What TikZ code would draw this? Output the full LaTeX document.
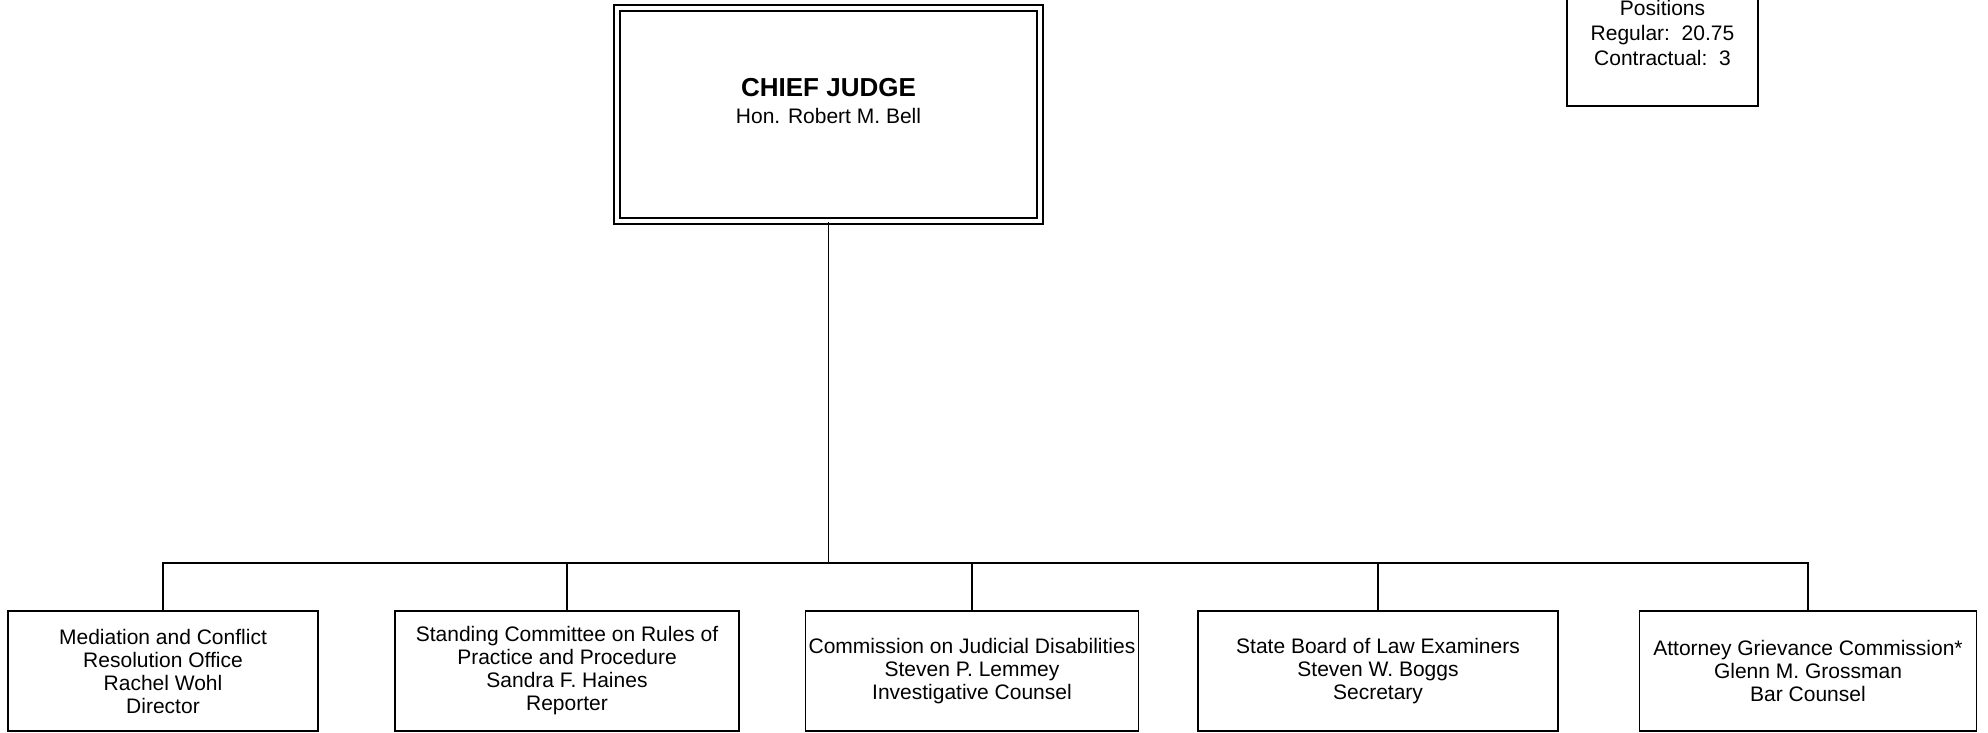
\documentclass[tikz,border=0pt]{standalone}
\usepackage{fontspec}
\setmainfont{Liberation Sans}
\begin{document}
\begin{tikzpicture}[x=0.5pt, y=-0.5pt,
  every node/.style = {align=center, inner sep=0pt,
    font=\fontsize{10.5}{11.5}\selectfont},
  unit/.style = {shape=rectangle, draw, line width=0.75pt, minimum height=60pt},
  chiefbox/.style = {shape=rectangle, draw, line width=1pt,
    double, double distance=2pt,
    minimum width=211.5pt, minimum height=106.5pt},
  posbox/.style = {shape=rectangle, draw, line width=1pt,
    minimum width=95.5pt, minimum height=73.5pt},
  link/.style = {line width=0.6pt}]
  \useasboundingbox (0,0) rectangle (1988,733);
  \clip (0,0) rectangle (1988,733);
  \node[chiefbox] (chief) at (828.5,114.5) {};
  \node (chiefname) at (828.5,101) {{\fontsize{13}{15}\selectfont\bfseries CHIEF JUDGE}\\[2pt]Hon. Robert M. Bell};
  \node[posbox] (positions) at (1662.5,32.5) {Positions\\[1pt]Regular:\ \ 20.75\\[1pt]Contractual:\ \ 3};
  \node[unit, minimum width=155pt] (mediation) at (163,671) {Mediation and Conflict\\Resolution Office\\Rachel Wohl\\Director};
  \node[unit, minimum width=172pt] (rules) at (567,671) {Standing Committee on Rules of\\Practice and Procedure\\Sandra F. Haines\\Reporter};
  \node[unit, minimum width=166.5pt] (disabilities) at (972,671) {Commission on Judicial Disabilities\\Steven P. Lemmey\\Investigative Counsel};
  \node[unit, minimum width=180pt] (examiners) at (1378,671) {State Board of Law Examiners\\Steven W. Boggs\\Secretary};
  \node[unit, minimum width=168.5pt] (grievance) at (1808,671) {Attorney Grievance Commission*\\Glenn M. Grossman\\Bar Counsel};
  \coordinate (fork) at (828.5,563);
  \draw[link] (chief.south) -- (fork);
  \foreach \office in {mediation,rules,disabilities,examiners,grievance}
    \draw[link] (fork) -| (\office.north);
\end{tikzpicture}
\end{document}
